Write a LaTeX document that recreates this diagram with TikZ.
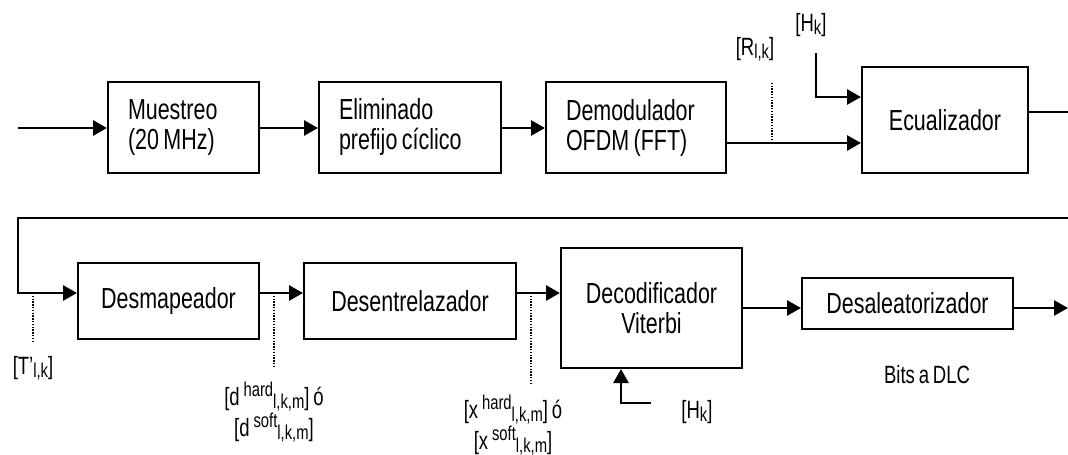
\documentclass[tikz,border=0pt]{standalone}
\usepackage{fontspec}
\setmainfont[FakeStretch=0.74,WordSpace=0.75]{Liberation Sans}
\usetikzlibrary{arrows.meta}
\newcommand{\lsub}[1]{\raisebox{-3pt}{\fontsize{20}{20}\selectfont #1}}
\newcommand{\lsup}[1]{\raisebox{9pt}{\fontsize{20}{20}\selectfont #1}}
\begin{document}
\begin{tikzpicture}[x=1pt,y=-1pt,
  blk/.style={draw,line width=2pt,inner sep=0pt,font=\fontsize{29}{30}\selectfont},
  lblk/.style={blk,align=flush left,inner xsep=20pt},
  conn/.style={line width=2.8pt},
  arr/.style={conn,-{Triangle[length=14pt,width=15pt]}},
  dots/.style={line width=1.4pt,dash pattern=on 1.4pt off 1.4pt},
  lbl/.style={inner sep=0pt,font=\fontsize{25}{31}\selectfont,align=center}]
\useasboundingbox (0,0) rectangle (1068,455);
% top row
\node[lblk,text width=111pt,minimum height=91pt] (mue) at (183.5,127.5) {Muestreo\\(20 MHz)};
\node[lblk,text width=142pt,minimum height=91pt] (eli) at (410,127.5) {Eliminado\\prefijo cíclico};
\node[lblk,text width=140pt,minimum height=91pt] (dem) at (636,127.5) {Demodulador\\OFDM (FFT)};
\node[blk,minimum width=166pt,minimum height=106pt] (ecu) at (945,120) {Ecualizador};
% bottom row
\node[blk,minimum width=181pt,minimum height=76pt] (desm) at (168.5,301) {Desmapeador};
\node[blk,minimum width=212pt,minimum height=76pt] (dese) at (410,301) {Desentrelazador};
\node[blk,minimum width=181pt,minimum height=120pt,align=center] (deco) at (651.5,308) {Decodificador\\Viterbi};
\node[blk,minimum width=211pt,minimum height=51pt] (desa) at (907.5,303.5) {Desaleatorizador};
% coordinates
\coordinate (in) at (18,128);
\coordinate (rk) at (772,143);
\coordinate (rktop) at (772,83);
\coordinate (hk0) at (816,53);
\coordinate (hky) at (0,97);
\coordinate (eqy) at (0,112);
\coordinate (eqout) at (1068,112);
\coordinate (ret0) at (1068,218);
\coordinate (ret1) at (18,218);
\coordinate (row2) at (0,293);
\coordinate (tk) at (33,293);
\coordinate (tkb) at (33,341);
\coordinate (dk) at (274,293);
\coordinate (dkb) at (274,368);
\coordinate (xk) at (531,293);
\coordinate (xkb) at (531,383);
\coordinate (outy) at (0,308);
\coordinate (out) at (1068,308);
\coordinate (hk2) at (651,403);
\coordinate (hkx) at (621,0);
% connectors top
\draw[arr] (in) -- (mue.west |- in);
\draw[arr] (mue.east |- in) -- (eli.west |- in);
\draw[arr] (eli.east |- in) -- (dem.west |- in);
\draw[arr] (dem.east |- rk) -- (ecu.west |- rk);
\draw[dots] (rk) -- (rktop);
\draw[arr] (hk0) |- (ecu.west |- hky);
\draw[conn] (ecu.east |- eqy) -- (eqout);
% connectors bottom
\draw[arr] (ret0) -- (ret1) |- (desm.west |- row2);
\draw[dots] (tk) -- (tkb);
\draw[arr] (desm.east |- row2) -- (dese.west |- row2);
\draw[dots] (dk) -- (dkb);
\draw[arr] (dese.east |- row2) -- (deco.west |- row2);
\draw[dots] (xk) -- (xkb);
\draw[arr] (deco.east |- outy) -- (desa.west |- outy);
\draw[arr] (desa.east |- outy) -- (out);
\draw[arr] (hk2) -| (deco.south -| hkx);
% labels
\node[lbl] (lr) at (755,49) {{[}R\lsub{l,k}]};
\node[lbl] (lh) at (811,25) {{[}H\lsub{k}]};
\node[lbl] (lt) at (33,368) {{[}T’\lsub{l,k}]};
\node[lbl] (ld) at (274,412) {{[}d \lsup{hard}\lsub{l,k,m}] ó\\{[}d \lsup{soft}\lsub{l,k,m}]};
\node[lbl] (lx) at (513,425) {{[}x \lsup{hard}\lsub{l,k,m}] ó\\{[}x \lsup{soft}\lsub{l,k,m}]};
\node[lbl] (lh2) at (697,412) {{[}H\lsub{k}]};
\node[lbl] (bits) at (927,375) {Bits a DLC};
\end{tikzpicture}
\end{document}
